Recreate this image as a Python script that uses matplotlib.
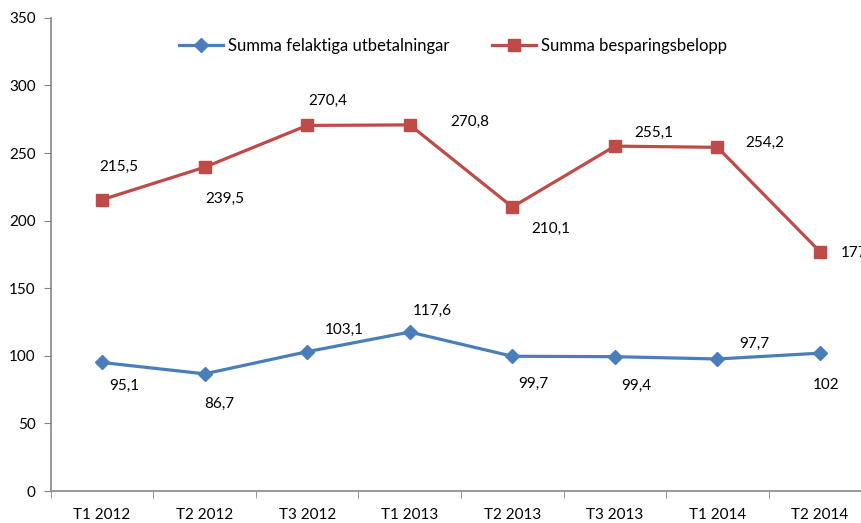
import matplotlib.pyplot as plt
import numpy as np

plt.rcParams['font.family'] = ['Lato', 'DejaVu Sans']

periods = ["T1 2012", "T2 2012", "T3 2012", "T1 2013", "T2 2013", "T3 2013", "T1 2014", "T2 2014"]
felaktiga = [95.1, 86.7, 103.1, 117.6, 99.7, 99.4, 97.7, 102]
besparing = [215.5, 239.5, 270.4, 270.8, 210.1, 255.1, 254.2, 177]

# label offsets in pixels (dx, dy)
off_blue = [(22, -23), (15, -30), (37, 22), (22, 21), (21, -28), (21, -29), (37, 15), (6, -32)]
off_red = [(17, 33), (20, -32), (21, 25), (60, 3), (38, -22), (39, 13), (47, 4), (34, -1)]

def fmt(v):
    s = ("%.1f" % v).replace(".", ",")
    return s[:-2] if s.endswith(",0") else s

fig = plt.figure(figsize=(8.61, 5.23), dpi=100)
ax = fig.add_axes([0.059, 0.061, 0.953, 0.905])

x = np.arange(len(periods))
blue = "#4A7EBB"
red = "#BE4B48"
ax.plot(x, felaktiga, color=blue, lw=2.3, marker="D", ms=7, label="Summa felaktiga utbetalningar")
ax.plot(x, besparing, color=red, lw=2.3, marker="s", ms=8, label="Summa besparingsbelopp")

for xi, v, o in zip(x, felaktiga, off_blue):
    ax.annotate(fmt(v), (xi, v), xytext=o, textcoords="offset pixels",
                ha="center", va="center", fontsize=11)
for xi, v, o in zip(x, besparing, off_red):
    ax.annotate(fmt(v), (xi, v), xytext=o, textcoords="offset pixels",
                ha="center", va="center", fontsize=11, annotation_clip=False)

ax.set_xlim(-0.5, len(periods) - 0.5)
ax.set_ylim(0, 350)
ax.set_yticks(np.arange(0, 351, 50))
ax.set_xticks(x)
ax.set_xticklabels(periods)
ax.set_xticks(np.arange(-0.5, len(periods), 1), minor=True)
ax.tick_params(axis="x", which="major", length=0, pad=12, labelsize=11)
ax.tick_params(axis="x", which="minor", length=5, color="#868686", direction="out")
ax.tick_params(axis="y", length=5, color="#868686", direction="out", labelsize=11, pad=6)

for s in ["top", "right"]:
    ax.spines[s].set_visible(False)
for s in ["left", "bottom"]:
    ax.spines[s].set_color("#868686")
    ax.spines[s].set_linewidth(1.2)

ax.legend(loc="upper center", bbox_to_anchor=(0.49, 0.99), ncol=2, frameon=False,
          fontsize=12, handlelength=2.6, columnspacing=2.6, handletextpad=0.3)

fig.savefig("out.png", dpi=100)
